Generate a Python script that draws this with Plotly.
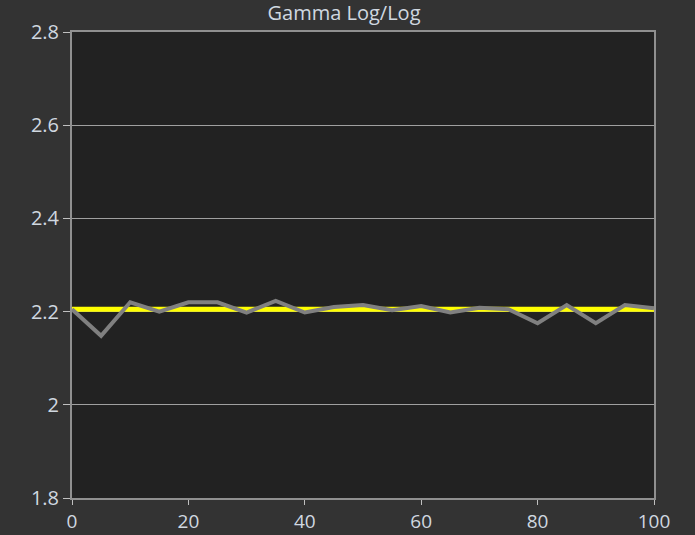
import plotly.graph_objects as go

x_vals = [0, 5, 10, 15, 20, 25, 30, 35, 40, 45, 50, 55, 60, 65, 70, 75, 80, 85, 90, 95, 100]
gamma_measured = [2.205, 2.148, 2.22, 2.20, 2.22, 2.22, 2.198, 2.223, 2.198, 2.21, 2.214, 2.203,
                  2.212, 2.198, 2.208, 2.205, 2.175, 2.214, 2.175, 2.214, 2.207]
target_x = [0, 100]
target_gamma = [2.205, 2.205]

fig = go.Figure()
fig.add_trace(go.Scatter(x=target_x, y=target_gamma, mode="lines",
                         line=dict(color="#ffff00", width=5), showlegend=False))
fig.add_trace(go.Scatter(x=x_vals, y=gamma_measured, mode="lines",
                         line=dict(color="#808080", width=4), showlegend=False))

fig.update_layout(
    width=695, height=535,
    paper_bgcolor="#333333", plot_bgcolor="#222222",
    margin=dict(l=72, r=41, t=32, b=37, autoexpand=False),
    title=dict(text="Gamma Log/Log", x=0.495, xanchor="center", y=0.975, yanchor="middle",
               font=dict(family="Open Sans", size=20, color="#d0d8e0")),
    font=dict(family="Open Sans", size=20, color="#d0d8e0"),
)
fig.update_xaxes(range=[0, 100], tickvals=[0, 20, 40, 60, 80, 100], showgrid=False,
                 showline=True, linecolor="#909090", linewidth=2, mirror=True,
                 ticks="outside", ticklen=5, tickcolor="#c0c0c0", zeroline=False,
                 tickfont=dict(size=19), automargin=False)
fig.update_yaxes(range=[1.8, 2.8], tickvals=[1.8, 2.0, 2.2, 2.4, 2.6, 2.8],
                 ticktext=["1.8", "2", "2.2", "2.4", "2.6", "2.8"],
                 showgrid=True, gridcolor="#a0a0a0", gridwidth=1,
                 showline=True, linecolor="#909090", linewidth=2, mirror=True,
                 ticks="outside", ticklen=7, tickcolor="#c0c0c0", zeroline=False,
                 automargin=False)

fig.write_html("out.html", config={"displayModeBar": False},
               post_script="document.body.style.margin='0';document.body.style.background='#333333';")
